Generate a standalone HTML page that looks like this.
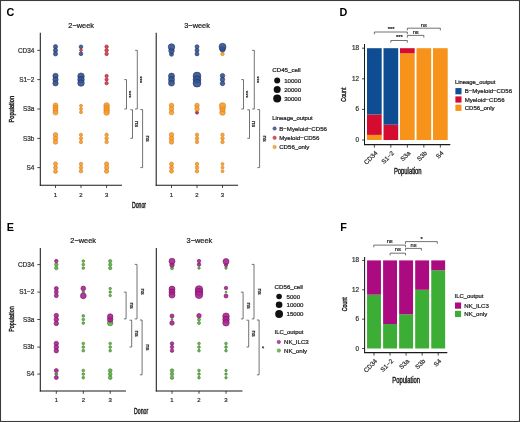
<!DOCTYPE html><html><head><meta charset="utf-8"><style>html,body{margin:0;padding:0;background:#fff;}svg{display:block;filter:blur(0.4px);}text{font-family:'Liberation Sans', sans-serif;}</style></head><body>
<svg width="520" height="422" viewBox="0 0 520 422">
<rect x="0" y="0" width="520" height="422" fill="#fff"/>
<text x="6.6" y="16.2" font-size="10.8" fill="#000" text-anchor="start" font-weight="bold">C</text>
<text x="339.6" y="16.0" font-size="10.8" fill="#000" text-anchor="start" font-weight="bold">D</text>
<text x="6.8" y="230.8" font-size="10.8" fill="#000" text-anchor="start" font-weight="bold">E</text>
<text x="340.2" y="230.6" font-size="10.8" fill="#000" text-anchor="start" font-weight="bold">F</text>
<line x1="40.3" y1="32.8" x2="40.3" y2="185.7" stroke="#1a1a1a" stroke-width="1.05"/>
<line x1="39.8" y1="185.2" x2="122.0" y2="185.2" stroke="#1a1a1a" stroke-width="1.05"/>
<line x1="37.3" y1="50.3" x2="40.3" y2="50.3" stroke="#1a1a1a" stroke-width="0.8"/>
<line x1="37.3" y1="79.6" x2="40.3" y2="79.6" stroke="#1a1a1a" stroke-width="0.8"/>
<line x1="37.3" y1="109.0" x2="40.3" y2="109.0" stroke="#1a1a1a" stroke-width="0.8"/>
<line x1="37.3" y1="138.4" x2="40.3" y2="138.4" stroke="#1a1a1a" stroke-width="0.8"/>
<line x1="37.3" y1="167.6" x2="40.3" y2="167.6" stroke="#1a1a1a" stroke-width="0.8"/>
<line x1="55.5" y1="185.2" x2="55.5" y2="188.0" stroke="#1a1a1a" stroke-width="0.8"/>
<text x="55.5" y="196.6" font-size="6" fill="#2e2e2e" text-anchor="middle" font-weight="normal" stroke="#2e2e2e" stroke-width="0.22">1</text>
<line x1="81.0" y1="185.2" x2="81.0" y2="188.0" stroke="#1a1a1a" stroke-width="0.8"/>
<text x="81.0" y="196.6" font-size="6" fill="#2e2e2e" text-anchor="middle" font-weight="normal" stroke="#2e2e2e" stroke-width="0.22">2</text>
<line x1="106.6" y1="185.2" x2="106.6" y2="188.0" stroke="#1a1a1a" stroke-width="0.8"/>
<text x="106.6" y="196.6" font-size="6" fill="#2e2e2e" text-anchor="middle" font-weight="normal" stroke="#2e2e2e" stroke-width="0.22">3</text>
<text x="81.15" y="28.2" font-size="7.4" fill="#1a1a1a" text-anchor="middle" font-weight="normal" stroke="#1a1a1a" stroke-width="0.22">2−week</text>
<circle cx="55.50" cy="46.70" r="2.10" fill="#33528f" fill-opacity="0.9" stroke="#1d3468" stroke-width="0.6"/>
<circle cx="55.50" cy="50.30" r="2.10" fill="#33528f" fill-opacity="0.9" stroke="#1d3468" stroke-width="0.6"/>
<circle cx="55.50" cy="53.90" r="2.10" fill="#33528f" fill-opacity="0.9" stroke="#1d3468" stroke-width="0.6"/>
<circle cx="81.00" cy="46.80" r="1.85" fill="#33528f" fill-opacity="0.9" stroke="#1d3468" stroke-width="0.6"/>
<circle cx="81.00" cy="53.80" r="1.85" fill="#33528f" fill-opacity="0.9" stroke="#1d3468" stroke-width="0.6"/>
<circle cx="81.00" cy="50.30" r="1.40" fill="#d0384a" fill-opacity="0.9" stroke="#a31c2c" stroke-width="0.6"/>
<circle cx="106.60" cy="46.70" r="1.75" fill="#d0384a" fill-opacity="0.9" stroke="#a31c2c" stroke-width="0.6"/>
<circle cx="106.60" cy="50.30" r="1.75" fill="#d0384a" fill-opacity="0.9" stroke="#a31c2c" stroke-width="0.6"/>
<circle cx="106.60" cy="53.90" r="1.75" fill="#d0384a" fill-opacity="0.9" stroke="#a31c2c" stroke-width="0.6"/>
<circle cx="55.50" cy="75.90" r="2.65" fill="#33528f" fill-opacity="0.9" stroke="#1d3468" stroke-width="0.6"/>
<circle cx="55.50" cy="79.60" r="2.65" fill="#33528f" fill-opacity="0.9" stroke="#1d3468" stroke-width="0.6"/>
<circle cx="55.50" cy="83.30" r="2.65" fill="#33528f" fill-opacity="0.9" stroke="#1d3468" stroke-width="0.6"/>
<circle cx="81.00" cy="76.20" r="3.25" fill="#33528f" fill-opacity="0.9" stroke="#1d3468" stroke-width="0.6"/>
<circle cx="81.00" cy="79.60" r="3.25" fill="#33528f" fill-opacity="0.9" stroke="#1d3468" stroke-width="0.6"/>
<circle cx="81.00" cy="83.00" r="3.25" fill="#33528f" fill-opacity="0.9" stroke="#1d3468" stroke-width="0.6"/>
<circle cx="106.60" cy="76.00" r="1.65" fill="#d0384a" fill-opacity="0.9" stroke="#a31c2c" stroke-width="0.6"/>
<circle cx="106.60" cy="79.60" r="1.65" fill="#d0384a" fill-opacity="0.9" stroke="#a31c2c" stroke-width="0.6"/>
<circle cx="106.60" cy="83.20" r="1.65" fill="#d0384a" fill-opacity="0.9" stroke="#a31c2c" stroke-width="0.6"/>
<circle cx="55.50" cy="105.40" r="2.45" fill="#f59c30" fill-opacity="0.9" stroke="#d97c12" stroke-width="0.6"/>
<circle cx="55.50" cy="107.80" r="2.45" fill="#f59c30" fill-opacity="0.9" stroke="#d97c12" stroke-width="0.6"/>
<circle cx="55.50" cy="110.20" r="2.45" fill="#f59c30" fill-opacity="0.9" stroke="#d97c12" stroke-width="0.6"/>
<circle cx="55.50" cy="112.60" r="2.45" fill="#f59c30" fill-opacity="0.9" stroke="#d97c12" stroke-width="0.6"/>
<circle cx="81.00" cy="105.80" r="1.50" fill="#f59c30" fill-opacity="0.9" stroke="#d97c12" stroke-width="0.6"/>
<circle cx="81.00" cy="109.00" r="1.50" fill="#f59c30" fill-opacity="0.9" stroke="#d97c12" stroke-width="0.6"/>
<circle cx="81.00" cy="112.20" r="1.50" fill="#f59c30" fill-opacity="0.9" stroke="#d97c12" stroke-width="0.6"/>
<circle cx="106.60" cy="105.40" r="2.75" fill="#f59c30" fill-opacity="0.9" stroke="#d97c12" stroke-width="0.6"/>
<circle cx="106.60" cy="107.80" r="2.75" fill="#f59c30" fill-opacity="0.9" stroke="#d97c12" stroke-width="0.6"/>
<circle cx="106.60" cy="110.20" r="2.75" fill="#f59c30" fill-opacity="0.9" stroke="#d97c12" stroke-width="0.6"/>
<circle cx="106.60" cy="112.60" r="2.75" fill="#f59c30" fill-opacity="0.9" stroke="#d97c12" stroke-width="0.6"/>
<circle cx="55.50" cy="134.80" r="2.25" fill="#f59c30" fill-opacity="0.9" stroke="#d97c12" stroke-width="0.6"/>
<circle cx="55.50" cy="138.40" r="2.25" fill="#f59c30" fill-opacity="0.9" stroke="#d97c12" stroke-width="0.6"/>
<circle cx="55.50" cy="142.00" r="2.25" fill="#f59c30" fill-opacity="0.9" stroke="#d97c12" stroke-width="0.6"/>
<circle cx="81.00" cy="134.80" r="1.65" fill="#f59c30" fill-opacity="0.9" stroke="#d97c12" stroke-width="0.6"/>
<circle cx="81.00" cy="138.40" r="1.65" fill="#f59c30" fill-opacity="0.9" stroke="#d97c12" stroke-width="0.6"/>
<circle cx="81.00" cy="142.00" r="1.65" fill="#f59c30" fill-opacity="0.9" stroke="#d97c12" stroke-width="0.6"/>
<circle cx="106.60" cy="134.80" r="1.75" fill="#f59c30" fill-opacity="0.9" stroke="#d97c12" stroke-width="0.6"/>
<circle cx="106.60" cy="138.40" r="1.75" fill="#f59c30" fill-opacity="0.9" stroke="#d97c12" stroke-width="0.6"/>
<circle cx="106.60" cy="142.00" r="1.75" fill="#f59c30" fill-opacity="0.9" stroke="#d97c12" stroke-width="0.6"/>
<circle cx="55.50" cy="163.80" r="2.00" fill="#f59c30" fill-opacity="0.9" stroke="#d97c12" stroke-width="0.6"/>
<circle cx="55.50" cy="167.60" r="2.00" fill="#f59c30" fill-opacity="0.9" stroke="#d97c12" stroke-width="0.6"/>
<circle cx="55.50" cy="171.40" r="2.00" fill="#f59c30" fill-opacity="0.9" stroke="#d97c12" stroke-width="0.6"/>
<circle cx="81.00" cy="164.00" r="1.75" fill="#f59c30" fill-opacity="0.9" stroke="#d97c12" stroke-width="0.6"/>
<circle cx="81.00" cy="167.60" r="1.75" fill="#f59c30" fill-opacity="0.9" stroke="#d97c12" stroke-width="0.6"/>
<circle cx="81.00" cy="171.20" r="1.75" fill="#f59c30" fill-opacity="0.9" stroke="#d97c12" stroke-width="0.6"/>
<circle cx="106.60" cy="164.00" r="2.15" fill="#f59c30" fill-opacity="0.9" stroke="#d97c12" stroke-width="0.6"/>
<circle cx="106.60" cy="167.60" r="2.15" fill="#f59c30" fill-opacity="0.9" stroke="#d97c12" stroke-width="0.6"/>
<circle cx="106.60" cy="171.20" r="2.15" fill="#f59c30" fill-opacity="0.9" stroke="#d97c12" stroke-width="0.6"/>
<text x="34.3" y="52.599999999999994" font-size="6.4" fill="#2e2e2e" text-anchor="end" font-weight="normal" stroke="#2e2e2e" stroke-width="0.22">CD34</text>
<text x="34.3" y="81.89999999999999" font-size="6.4" fill="#2e2e2e" text-anchor="end" font-weight="normal" stroke="#2e2e2e" stroke-width="0.22">S1−2</text>
<text x="34.3" y="111.3" font-size="6.4" fill="#2e2e2e" text-anchor="end" font-weight="normal" stroke="#2e2e2e" stroke-width="0.22">S3a</text>
<text x="34.3" y="140.70000000000002" font-size="6.4" fill="#2e2e2e" text-anchor="end" font-weight="normal" stroke="#2e2e2e" stroke-width="0.22">S3b</text>
<text x="34.3" y="169.9" font-size="6.4" fill="#2e2e2e" text-anchor="end" font-weight="normal" stroke="#2e2e2e" stroke-width="0.22">S4</text>
<line x1="156.2" y1="32.8" x2="156.2" y2="185.7" stroke="#1a1a1a" stroke-width="1.05"/>
<line x1="155.7" y1="185.2" x2="238.0" y2="185.2" stroke="#1a1a1a" stroke-width="1.05"/>
<line x1="171.5" y1="185.2" x2="171.5" y2="188.0" stroke="#1a1a1a" stroke-width="0.8"/>
<text x="171.5" y="196.6" font-size="6" fill="#2e2e2e" text-anchor="middle" font-weight="normal" stroke="#2e2e2e" stroke-width="0.22">1</text>
<line x1="197.0" y1="185.2" x2="197.0" y2="188.0" stroke="#1a1a1a" stroke-width="0.8"/>
<text x="197.0" y="196.6" font-size="6" fill="#2e2e2e" text-anchor="middle" font-weight="normal" stroke="#2e2e2e" stroke-width="0.22">2</text>
<line x1="222.5" y1="185.2" x2="222.5" y2="188.0" stroke="#1a1a1a" stroke-width="0.8"/>
<text x="222.5" y="196.6" font-size="6" fill="#2e2e2e" text-anchor="middle" font-weight="normal" stroke="#2e2e2e" stroke-width="0.22">3</text>
<text x="197.1" y="28.2" font-size="7.4" fill="#1a1a1a" text-anchor="middle" font-weight="normal" stroke="#1a1a1a" stroke-width="0.22">3−week</text>
<circle cx="171.50" cy="54.30" r="2.00" fill="#33528f" fill-opacity="0.9" stroke="#1d3468" stroke-width="0.6"/>
<circle cx="171.50" cy="50.80" r="2.75" fill="#33528f" fill-opacity="0.9" stroke="#1d3468" stroke-width="0.6"/>
<circle cx="171.50" cy="47.00" r="3.25" fill="#33528f" fill-opacity="0.9" stroke="#1d3468" stroke-width="0.6"/>
<circle cx="197.00" cy="46.70" r="2.00" fill="#33528f" fill-opacity="0.9" stroke="#1d3468" stroke-width="0.6"/>
<circle cx="197.00" cy="50.30" r="2.00" fill="#33528f" fill-opacity="0.9" stroke="#1d3468" stroke-width="0.6"/>
<circle cx="197.00" cy="53.90" r="2.00" fill="#33528f" fill-opacity="0.9" stroke="#1d3468" stroke-width="0.6"/>
<circle cx="222.50" cy="53.90" r="1.75" fill="#f59c30" fill-opacity="0.9" stroke="#d97c12" stroke-width="0.6"/>
<circle cx="222.50" cy="49.30" r="2.75" fill="#33528f" fill-opacity="0.9" stroke="#1d3468" stroke-width="0.6"/>
<circle cx="222.50" cy="46.80" r="3.50" fill="#33528f" fill-opacity="0.9" stroke="#1d3468" stroke-width="0.6"/>
<circle cx="171.50" cy="76.10" r="3.00" fill="#33528f" fill-opacity="0.9" stroke="#1d3468" stroke-width="0.6"/>
<circle cx="171.50" cy="79.60" r="3.00" fill="#33528f" fill-opacity="0.9" stroke="#1d3468" stroke-width="0.6"/>
<circle cx="171.50" cy="83.10" r="3.00" fill="#33528f" fill-opacity="0.9" stroke="#1d3468" stroke-width="0.6"/>
<circle cx="197.00" cy="76.00" r="3.90" fill="#33528f" fill-opacity="0.9" stroke="#1d3468" stroke-width="0.6"/>
<circle cx="197.00" cy="79.60" r="3.90" fill="#33528f" fill-opacity="0.9" stroke="#1d3468" stroke-width="0.6"/>
<circle cx="197.00" cy="83.20" r="3.90" fill="#33528f" fill-opacity="0.9" stroke="#1d3468" stroke-width="0.6"/>
<circle cx="222.50" cy="75.70" r="2.25" fill="#33528f" fill-opacity="0.9" stroke="#1d3468" stroke-width="0.6"/>
<circle cx="222.50" cy="79.60" r="2.25" fill="#33528f" fill-opacity="0.9" stroke="#1d3468" stroke-width="0.6"/>
<circle cx="222.50" cy="83.50" r="2.25" fill="#33528f" fill-opacity="0.9" stroke="#1d3468" stroke-width="0.6"/>
<circle cx="171.50" cy="105.40" r="2.25" fill="#f59c30" fill-opacity="0.9" stroke="#d97c12" stroke-width="0.6"/>
<circle cx="171.50" cy="109.00" r="2.25" fill="#f59c30" fill-opacity="0.9" stroke="#d97c12" stroke-width="0.6"/>
<circle cx="171.50" cy="112.60" r="2.25" fill="#f59c30" fill-opacity="0.9" stroke="#d97c12" stroke-width="0.6"/>
<circle cx="197.00" cy="112.60" r="1.55" fill="#a8303e" fill-opacity="0.9" stroke="#7a1a28" stroke-width="0.6"/>
<circle cx="197.00" cy="105.40" r="2.25" fill="#f59c30" fill-opacity="0.9" stroke="#d97c12" stroke-width="0.6"/>
<circle cx="197.00" cy="109.00" r="2.25" fill="#f59c30" fill-opacity="0.9" stroke="#d97c12" stroke-width="0.6"/>
<circle cx="222.50" cy="112.60" r="2.75" fill="#f59c30" fill-opacity="0.9" stroke="#d97c12" stroke-width="0.6"/>
<circle cx="222.50" cy="109.00" r="2.75" fill="#f59c30" fill-opacity="0.9" stroke="#d97c12" stroke-width="0.6"/>
<circle cx="222.50" cy="105.80" r="3.15" fill="#f59c30" fill-opacity="0.9" stroke="#d97c12" stroke-width="0.6"/>
<circle cx="171.50" cy="134.80" r="2.25" fill="#f59c30" fill-opacity="0.9" stroke="#d97c12" stroke-width="0.6"/>
<circle cx="171.50" cy="138.40" r="2.25" fill="#f59c30" fill-opacity="0.9" stroke="#d97c12" stroke-width="0.6"/>
<circle cx="171.50" cy="142.00" r="2.25" fill="#f59c30" fill-opacity="0.9" stroke="#d97c12" stroke-width="0.6"/>
<circle cx="197.00" cy="134.80" r="1.75" fill="#f59c30" fill-opacity="0.9" stroke="#d97c12" stroke-width="0.6"/>
<circle cx="197.00" cy="138.40" r="1.75" fill="#f59c30" fill-opacity="0.9" stroke="#d97c12" stroke-width="0.6"/>
<circle cx="197.00" cy="142.00" r="1.75" fill="#f59c30" fill-opacity="0.9" stroke="#d97c12" stroke-width="0.6"/>
<circle cx="222.50" cy="134.80" r="1.75" fill="#f59c30" fill-opacity="0.9" stroke="#d97c12" stroke-width="0.6"/>
<circle cx="222.50" cy="138.40" r="1.75" fill="#f59c30" fill-opacity="0.9" stroke="#d97c12" stroke-width="0.6"/>
<circle cx="222.50" cy="142.00" r="1.75" fill="#f59c30" fill-opacity="0.9" stroke="#d97c12" stroke-width="0.6"/>
<circle cx="171.50" cy="164.00" r="2.00" fill="#f59c30" fill-opacity="0.9" stroke="#d97c12" stroke-width="0.6"/>
<circle cx="171.50" cy="167.60" r="2.00" fill="#f59c30" fill-opacity="0.9" stroke="#d97c12" stroke-width="0.6"/>
<circle cx="171.50" cy="171.20" r="2.00" fill="#f59c30" fill-opacity="0.9" stroke="#d97c12" stroke-width="0.6"/>
<circle cx="197.00" cy="164.00" r="1.75" fill="#f59c30" fill-opacity="0.9" stroke="#d97c12" stroke-width="0.6"/>
<circle cx="197.00" cy="167.60" r="1.75" fill="#f59c30" fill-opacity="0.9" stroke="#d97c12" stroke-width="0.6"/>
<circle cx="197.00" cy="171.20" r="1.75" fill="#f59c30" fill-opacity="0.9" stroke="#d97c12" stroke-width="0.6"/>
<circle cx="222.50" cy="164.00" r="1.50" fill="#f59c30" fill-opacity="0.9" stroke="#d97c12" stroke-width="0.6"/>
<circle cx="222.50" cy="167.60" r="1.50" fill="#f59c30" fill-opacity="0.9" stroke="#d97c12" stroke-width="0.6"/>
<circle cx="222.50" cy="171.20" r="1.50" fill="#f59c30" fill-opacity="0.9" stroke="#d97c12" stroke-width="0.6"/>
<path d="M124.3,79.6 H126.5 V109.0 H124.3" fill="none" stroke="#444" stroke-width="0.75"/>
<text x="0" y="0" font-size="5.9" fill="#222" text-anchor="middle" font-weight="normal" transform="translate(129.1,94.3) rotate(90)" dominant-baseline="central" stroke="#222" stroke-width="0.22">***</text>
<path d="M135.10000000000002,50.3 H137.3 V109.0 H135.10000000000002" fill="none" stroke="#444" stroke-width="0.75"/>
<text x="0" y="0" font-size="5.9" fill="#222" text-anchor="middle" font-weight="normal" transform="translate(140.1,79.65) rotate(90)" dominant-baseline="central" stroke="#222" stroke-width="0.22">***</text>
<path d="M130.3,109.8 H132.5 V138.3 H130.3" fill="none" stroke="#444" stroke-width="0.75"/>
<text x="0" y="0" font-size="5.9" fill="#222" text-anchor="middle" font-weight="normal" transform="translate(137.4,124.05000000000001) rotate(90)" dominant-baseline="central" stroke="#222" stroke-width="0.22">ns</text>
<path d="M140.4,109.6 H142.6 V167.6 H140.4" fill="none" stroke="#444" stroke-width="0.75"/>
<text x="0" y="0" font-size="5.9" fill="#222" text-anchor="middle" font-weight="normal" transform="translate(147.9,138.6) rotate(90)" dominant-baseline="central" stroke="#222" stroke-width="0.22">ns</text>
<path d="M241.3,79.6 H243.5 V109.0 H241.3" fill="none" stroke="#444" stroke-width="0.75"/>
<text x="0" y="0" font-size="5.9" fill="#222" text-anchor="middle" font-weight="normal" transform="translate(246.1,94.3) rotate(90)" dominant-baseline="central" stroke="#222" stroke-width="0.22">***</text>
<path d="M252.10000000000002,50.3 H254.3 V109.0 H252.10000000000002" fill="none" stroke="#444" stroke-width="0.75"/>
<text x="0" y="0" font-size="5.9" fill="#222" text-anchor="middle" font-weight="normal" transform="translate(257.1,79.65) rotate(90)" dominant-baseline="central" stroke="#222" stroke-width="0.22">***</text>
<path d="M247.3,109.8 H249.5 V138.3 H247.3" fill="none" stroke="#444" stroke-width="0.75"/>
<text x="0" y="0" font-size="5.9" fill="#222" text-anchor="middle" font-weight="normal" transform="translate(254.4,124.05000000000001) rotate(90)" dominant-baseline="central" stroke="#222" stroke-width="0.22">ns</text>
<path d="M257.40000000000003,109.6 H259.6 V167.6 H257.40000000000003" fill="none" stroke="#444" stroke-width="0.75"/>
<text x="0" y="0" font-size="5.9" fill="#222" text-anchor="middle" font-weight="normal" transform="translate(264.90000000000003,138.6) rotate(90)" dominant-baseline="central" stroke="#222" stroke-width="0.22">ns</text>
<text x="0" y="0" font-size="8.0" fill="#1a1a1a" text-anchor="middle" font-weight="normal" transform="translate(13.8,109.2) rotate(-90)" stroke="#1a1a1a" stroke-width="0.42" textLength="26.5" lengthAdjust="spacingAndGlyphs">Population</text>
<text x="139.0" y="207.9" font-size="8.2" fill="#1a1a1a" text-anchor="middle" font-weight="normal" stroke="#1a1a1a" stroke-width="0.42" textLength="14.1" lengthAdjust="spacingAndGlyphs">Donor</text>
<text x="272.3" y="72.3" font-size="6.15" fill="#1a1a1a" text-anchor="start" font-weight="normal" textLength="28.4" lengthAdjust="spacingAndGlyphs" stroke="#1a1a1a" stroke-width="0.22">CD45_cell</text>
<circle cx="277.2" cy="80.5" r="3.0" fill="#111"/>
<text x="284.2" y="82.7" font-size="6.1" fill="#1a1a1a" text-anchor="start" font-weight="normal" stroke="#1a1a1a" stroke-width="0.22">10000</text>
<circle cx="277.2" cy="89.5" r="3.5" fill="#111"/>
<text x="284.2" y="91.7" font-size="6.1" fill="#1a1a1a" text-anchor="start" font-weight="normal" stroke="#1a1a1a" stroke-width="0.22">20000</text>
<circle cx="277.2" cy="98.6" r="4.0" fill="#111"/>
<text x="284.2" y="100.8" font-size="6.1" fill="#1a1a1a" text-anchor="start" font-weight="normal" stroke="#1a1a1a" stroke-width="0.22">30000</text>
<text x="272.3" y="120.3" font-size="5.85" fill="#1a1a1a" text-anchor="start" font-weight="normal" textLength="40.4" lengthAdjust="spacingAndGlyphs" stroke="#1a1a1a" stroke-width="0.22">Lineage_output</text>
<circle cx="274.6" cy="128.5" r="1.75" fill="#33528f" fill-opacity="0.85" stroke="#1d3468" stroke-width="0.4"/>
<text x="279.2" y="130.7" font-size="6.1" fill="#1a1a1a" text-anchor="start" font-weight="normal" stroke="#1a1a1a" stroke-width="0.22">B−Myeloid−CD56</text>
<circle cx="274.6" cy="137.8" r="1.75" fill="#d0384a" fill-opacity="0.85" stroke="#a31c2c" stroke-width="0.4"/>
<text x="279.2" y="140.0" font-size="6.1" fill="#1a1a1a" text-anchor="start" font-weight="normal" stroke="#1a1a1a" stroke-width="0.22">Myeloid−CD56</text>
<circle cx="274.6" cy="147.0" r="1.75" fill="#f59c30" fill-opacity="0.85" stroke="#d97c12" stroke-width="0.4"/>
<text x="279.2" y="149.2" font-size="6.1" fill="#1a1a1a" text-anchor="start" font-weight="normal" stroke="#1a1a1a" stroke-width="0.22">CD56_only</text>
<line x1="40.3" y1="248.0" x2="40.3" y2="391.5" stroke="#1a1a1a" stroke-width="1.05"/>
<line x1="39.8" y1="391.0" x2="126.0" y2="391.0" stroke="#1a1a1a" stroke-width="1.05"/>
<line x1="37.3" y1="264.6" x2="40.3" y2="264.6" stroke="#1a1a1a" stroke-width="0.8"/>
<line x1="37.3" y1="292.1" x2="40.3" y2="292.1" stroke="#1a1a1a" stroke-width="0.8"/>
<line x1="37.3" y1="319.5" x2="40.3" y2="319.5" stroke="#1a1a1a" stroke-width="0.8"/>
<line x1="37.3" y1="347.1" x2="40.3" y2="347.1" stroke="#1a1a1a" stroke-width="0.8"/>
<line x1="37.3" y1="374.1" x2="40.3" y2="374.1" stroke="#1a1a1a" stroke-width="0.8"/>
<line x1="56.3" y1="391.0" x2="56.3" y2="393.8" stroke="#1a1a1a" stroke-width="0.8"/>
<text x="56.3" y="402.2" font-size="6" fill="#2e2e2e" text-anchor="middle" font-weight="normal" stroke="#2e2e2e" stroke-width="0.22">1</text>
<line x1="83.3" y1="391.0" x2="83.3" y2="393.8" stroke="#1a1a1a" stroke-width="0.8"/>
<text x="83.3" y="402.2" font-size="6" fill="#2e2e2e" text-anchor="middle" font-weight="normal" stroke="#2e2e2e" stroke-width="0.22">2</text>
<line x1="110.2" y1="391.0" x2="110.2" y2="393.8" stroke="#1a1a1a" stroke-width="0.8"/>
<text x="110.2" y="402.2" font-size="6" fill="#2e2e2e" text-anchor="middle" font-weight="normal" stroke="#2e2e2e" stroke-width="0.22">3</text>
<text x="83.15" y="243.0" font-size="7.4" fill="#1a1a1a" text-anchor="middle" font-weight="normal" stroke="#1a1a1a" stroke-width="0.22">2−week</text>
<circle cx="56.30" cy="268.10" r="1.75" fill="#5fae48" fill-opacity="0.9" stroke="#3b8028" stroke-width="0.6"/>
<circle cx="56.30" cy="264.60" r="1.75" fill="#5fae48" fill-opacity="0.9" stroke="#3b8028" stroke-width="0.6"/>
<circle cx="56.30" cy="261.10" r="1.75" fill="#aa2490" fill-opacity="0.9" stroke="#72105e" stroke-width="0.6"/>
<circle cx="83.30" cy="261.10" r="1.35" fill="#5fae48" fill-opacity="0.9" stroke="#3b8028" stroke-width="0.6"/>
<circle cx="83.30" cy="264.60" r="1.35" fill="#5fae48" fill-opacity="0.9" stroke="#3b8028" stroke-width="0.6"/>
<circle cx="83.30" cy="268.10" r="1.35" fill="#5fae48" fill-opacity="0.9" stroke="#3b8028" stroke-width="0.6"/>
<circle cx="110.20" cy="261.10" r="1.65" fill="#5fae48" fill-opacity="0.9" stroke="#3b8028" stroke-width="0.6"/>
<circle cx="110.20" cy="264.60" r="1.65" fill="#5fae48" fill-opacity="0.9" stroke="#3b8028" stroke-width="0.6"/>
<circle cx="110.20" cy="268.10" r="1.65" fill="#5fae48" fill-opacity="0.9" stroke="#3b8028" stroke-width="0.6"/>
<circle cx="56.30" cy="288.50" r="2.00" fill="#aa2490" fill-opacity="0.9" stroke="#72105e" stroke-width="0.6"/>
<circle cx="56.30" cy="292.10" r="2.00" fill="#aa2490" fill-opacity="0.9" stroke="#72105e" stroke-width="0.6"/>
<circle cx="56.30" cy="295.70" r="2.00" fill="#aa2490" fill-opacity="0.9" stroke="#72105e" stroke-width="0.6"/>
<circle cx="83.30" cy="288.40" r="2.35" fill="#aa2490" fill-opacity="0.9" stroke="#72105e" stroke-width="0.6"/>
<circle cx="83.30" cy="295.80" r="2.90" fill="#aa2490" fill-opacity="0.9" stroke="#72105e" stroke-width="0.6"/>
<circle cx="83.30" cy="292.10" r="1.25" fill="#6f7a62" fill-opacity="0.9" stroke="#4f5a42" stroke-width="0.6"/>
<circle cx="110.20" cy="288.60" r="1.25" fill="#5fae48" fill-opacity="0.9" stroke="#3b8028" stroke-width="0.6"/>
<circle cx="110.20" cy="292.10" r="1.25" fill="#5fae48" fill-opacity="0.9" stroke="#3b8028" stroke-width="0.6"/>
<circle cx="110.20" cy="295.60" r="1.25" fill="#5fae48" fill-opacity="0.9" stroke="#3b8028" stroke-width="0.6"/>
<circle cx="56.30" cy="315.60" r="2.25" fill="#aa2490" fill-opacity="0.9" stroke="#72105e" stroke-width="0.6"/>
<circle cx="56.30" cy="319.50" r="2.25" fill="#aa2490" fill-opacity="0.9" stroke="#72105e" stroke-width="0.6"/>
<circle cx="56.30" cy="323.40" r="2.25" fill="#aa2490" fill-opacity="0.9" stroke="#72105e" stroke-width="0.6"/>
<circle cx="83.30" cy="315.90" r="1.35" fill="#5fae48" fill-opacity="0.9" stroke="#3b8028" stroke-width="0.6"/>
<circle cx="83.30" cy="319.50" r="1.35" fill="#5fae48" fill-opacity="0.9" stroke="#3b8028" stroke-width="0.6"/>
<circle cx="83.30" cy="323.10" r="1.35" fill="#5fae48" fill-opacity="0.9" stroke="#3b8028" stroke-width="0.6"/>
<circle cx="110.20" cy="323.00" r="2.75" fill="#5fae48" fill-opacity="0.9" stroke="#3b8028" stroke-width="0.6"/>
<circle cx="110.20" cy="319.50" r="2.75" fill="#aa2490" fill-opacity="0.9" stroke="#72105e" stroke-width="0.6"/>
<circle cx="110.20" cy="316.50" r="2.75" fill="#aa2490" fill-opacity="0.9" stroke="#72105e" stroke-width="0.6"/>
<circle cx="56.30" cy="343.50" r="2.25" fill="#aa2490" fill-opacity="0.9" stroke="#72105e" stroke-width="0.6"/>
<circle cx="56.30" cy="347.10" r="2.25" fill="#aa2490" fill-opacity="0.9" stroke="#72105e" stroke-width="0.6"/>
<circle cx="56.30" cy="350.70" r="2.25" fill="#aa2490" fill-opacity="0.9" stroke="#72105e" stroke-width="0.6"/>
<circle cx="83.30" cy="343.50" r="1.35" fill="#5fae48" fill-opacity="0.9" stroke="#3b8028" stroke-width="0.6"/>
<circle cx="83.30" cy="347.10" r="1.35" fill="#5fae48" fill-opacity="0.9" stroke="#3b8028" stroke-width="0.6"/>
<circle cx="83.30" cy="350.70" r="1.35" fill="#5fae48" fill-opacity="0.9" stroke="#3b8028" stroke-width="0.6"/>
<circle cx="110.20" cy="343.50" r="1.35" fill="#5fae48" fill-opacity="0.9" stroke="#3b8028" stroke-width="0.6"/>
<circle cx="110.20" cy="347.10" r="1.35" fill="#5fae48" fill-opacity="0.9" stroke="#3b8028" stroke-width="0.6"/>
<circle cx="110.20" cy="350.70" r="1.35" fill="#5fae48" fill-opacity="0.9" stroke="#3b8028" stroke-width="0.6"/>
<circle cx="56.30" cy="370.60" r="2.00" fill="#aa2490" fill-opacity="0.9" stroke="#72105e" stroke-width="0.6"/>
<circle cx="56.30" cy="377.60" r="2.00" fill="#aa2490" fill-opacity="0.9" stroke="#72105e" stroke-width="0.6"/>
<circle cx="56.30" cy="374.10" r="1.50" fill="#6f7a62" fill-opacity="0.9" stroke="#4f5a42" stroke-width="0.6"/>
<circle cx="83.30" cy="370.50" r="1.35" fill="#5fae48" fill-opacity="0.9" stroke="#3b8028" stroke-width="0.6"/>
<circle cx="83.30" cy="374.10" r="1.35" fill="#5fae48" fill-opacity="0.9" stroke="#3b8028" stroke-width="0.6"/>
<circle cx="83.30" cy="377.70" r="1.35" fill="#5fae48" fill-opacity="0.9" stroke="#3b8028" stroke-width="0.6"/>
<circle cx="110.20" cy="370.50" r="1.85" fill="#5fae48" fill-opacity="0.9" stroke="#3b8028" stroke-width="0.6"/>
<circle cx="110.20" cy="374.10" r="1.85" fill="#5fae48" fill-opacity="0.9" stroke="#3b8028" stroke-width="0.6"/>
<circle cx="110.20" cy="377.70" r="1.85" fill="#5fae48" fill-opacity="0.9" stroke="#3b8028" stroke-width="0.6"/>
<text x="34.3" y="266.90000000000003" font-size="6.4" fill="#2e2e2e" text-anchor="end" font-weight="normal" stroke="#2e2e2e" stroke-width="0.22">CD34</text>
<text x="34.3" y="294.40000000000003" font-size="6.4" fill="#2e2e2e" text-anchor="end" font-weight="normal" stroke="#2e2e2e" stroke-width="0.22">S1−2</text>
<text x="34.3" y="321.8" font-size="6.4" fill="#2e2e2e" text-anchor="end" font-weight="normal" stroke="#2e2e2e" stroke-width="0.22">S3a</text>
<text x="34.3" y="349.40000000000003" font-size="6.4" fill="#2e2e2e" text-anchor="end" font-weight="normal" stroke="#2e2e2e" stroke-width="0.22">S3b</text>
<text x="34.3" y="376.40000000000003" font-size="6.4" fill="#2e2e2e" text-anchor="end" font-weight="normal" stroke="#2e2e2e" stroke-width="0.22">S4</text>
<line x1="156.3" y1="248.0" x2="156.3" y2="391.5" stroke="#1a1a1a" stroke-width="1.05"/>
<line x1="155.8" y1="391.0" x2="242.5" y2="391.0" stroke="#1a1a1a" stroke-width="1.05"/>
<line x1="172.0" y1="391.0" x2="172.0" y2="393.8" stroke="#1a1a1a" stroke-width="0.8"/>
<text x="172.0" y="402.2" font-size="6" fill="#2e2e2e" text-anchor="middle" font-weight="normal" stroke="#2e2e2e" stroke-width="0.22">1</text>
<line x1="199.0" y1="391.0" x2="199.0" y2="393.8" stroke="#1a1a1a" stroke-width="0.8"/>
<text x="199.0" y="402.2" font-size="6" fill="#2e2e2e" text-anchor="middle" font-weight="normal" stroke="#2e2e2e" stroke-width="0.22">2</text>
<line x1="226.0" y1="391.0" x2="226.0" y2="393.8" stroke="#1a1a1a" stroke-width="0.8"/>
<text x="226.0" y="402.2" font-size="6" fill="#2e2e2e" text-anchor="middle" font-weight="normal" stroke="#2e2e2e" stroke-width="0.22">3</text>
<text x="199.4" y="243.0" font-size="7.4" fill="#1a1a1a" text-anchor="middle" font-weight="normal" stroke="#1a1a1a" stroke-width="0.22">3−week</text>
<circle cx="172.00" cy="268.30" r="1.50" fill="#5fae48" fill-opacity="0.9" stroke="#3b8028" stroke-width="0.6"/>
<circle cx="172.00" cy="265.00" r="2.25" fill="#aa2490" fill-opacity="0.9" stroke="#72105e" stroke-width="0.6"/>
<circle cx="172.00" cy="261.20" r="3.00" fill="#aa2490" fill-opacity="0.9" stroke="#72105e" stroke-width="0.6"/>
<circle cx="199.00" cy="268.10" r="1.25" fill="#5fae48" fill-opacity="0.9" stroke="#3b8028" stroke-width="0.6"/>
<circle cx="199.00" cy="264.60" r="1.75" fill="#aa2490" fill-opacity="0.9" stroke="#72105e" stroke-width="0.6"/>
<circle cx="199.00" cy="261.10" r="1.75" fill="#aa2490" fill-opacity="0.9" stroke="#72105e" stroke-width="0.6"/>
<circle cx="226.00" cy="268.10" r="1.25" fill="#5fae48" fill-opacity="0.9" stroke="#3b8028" stroke-width="0.6"/>
<circle cx="226.00" cy="265.00" r="1.75" fill="#aa2490" fill-opacity="0.9" stroke="#72105e" stroke-width="0.6"/>
<circle cx="226.00" cy="261.50" r="3.00" fill="#aa2490" fill-opacity="0.9" stroke="#72105e" stroke-width="0.6"/>
<circle cx="172.00" cy="289.10" r="3.00" fill="#aa2490" fill-opacity="0.9" stroke="#72105e" stroke-width="0.6"/>
<circle cx="172.00" cy="292.10" r="3.00" fill="#aa2490" fill-opacity="0.9" stroke="#72105e" stroke-width="0.6"/>
<circle cx="172.00" cy="295.10" r="3.00" fill="#aa2490" fill-opacity="0.9" stroke="#72105e" stroke-width="0.6"/>
<circle cx="199.00" cy="289.40" r="3.75" fill="#aa2490" fill-opacity="0.9" stroke="#72105e" stroke-width="0.6"/>
<circle cx="199.00" cy="292.10" r="3.75" fill="#aa2490" fill-opacity="0.9" stroke="#72105e" stroke-width="0.6"/>
<circle cx="199.00" cy="294.80" r="3.75" fill="#aa2490" fill-opacity="0.9" stroke="#72105e" stroke-width="0.6"/>
<circle cx="226.00" cy="292.10" r="1.00" fill="#5fae48" fill-opacity="0.9" stroke="#3b8028" stroke-width="0.6"/>
<circle cx="226.00" cy="288.00" r="1.75" fill="#aa2490" fill-opacity="0.9" stroke="#72105e" stroke-width="0.6"/>
<circle cx="226.00" cy="296.00" r="2.00" fill="#aa2490" fill-opacity="0.9" stroke="#72105e" stroke-width="0.6"/>
<circle cx="172.00" cy="319.50" r="1.00" fill="#5fae48" fill-opacity="0.9" stroke="#3b8028" stroke-width="0.6"/>
<circle cx="172.00" cy="316.00" r="2.00" fill="#aa2490" fill-opacity="0.9" stroke="#72105e" stroke-width="0.6"/>
<circle cx="172.00" cy="323.00" r="2.25" fill="#aa2490" fill-opacity="0.9" stroke="#72105e" stroke-width="0.6"/>
<circle cx="199.00" cy="323.00" r="1.50" fill="#5fae48" fill-opacity="0.9" stroke="#3b8028" stroke-width="0.6"/>
<circle cx="199.00" cy="319.50" r="1.50" fill="#5fae48" fill-opacity="0.9" stroke="#3b8028" stroke-width="0.6"/>
<circle cx="199.00" cy="315.70" r="2.25" fill="#aa2490" fill-opacity="0.9" stroke="#72105e" stroke-width="0.6"/>
<circle cx="226.00" cy="316.20" r="3.25" fill="#aa2490" fill-opacity="0.9" stroke="#72105e" stroke-width="0.6"/>
<circle cx="226.00" cy="319.50" r="3.25" fill="#aa2490" fill-opacity="0.9" stroke="#72105e" stroke-width="0.6"/>
<circle cx="226.00" cy="322.80" r="3.25" fill="#aa2490" fill-opacity="0.9" stroke="#72105e" stroke-width="0.6"/>
<circle cx="172.00" cy="343.50" r="1.75" fill="#aa2490" fill-opacity="0.9" stroke="#72105e" stroke-width="0.6"/>
<circle cx="172.00" cy="347.10" r="1.75" fill="#aa2490" fill-opacity="0.9" stroke="#72105e" stroke-width="0.6"/>
<circle cx="172.00" cy="350.70" r="1.75" fill="#aa2490" fill-opacity="0.9" stroke="#72105e" stroke-width="0.6"/>
<circle cx="199.00" cy="343.50" r="1.35" fill="#5fae48" fill-opacity="0.9" stroke="#3b8028" stroke-width="0.6"/>
<circle cx="199.00" cy="347.10" r="1.35" fill="#5fae48" fill-opacity="0.9" stroke="#3b8028" stroke-width="0.6"/>
<circle cx="199.00" cy="350.70" r="1.35" fill="#5fae48" fill-opacity="0.9" stroke="#3b8028" stroke-width="0.6"/>
<circle cx="226.00" cy="343.50" r="1.35" fill="#5fae48" fill-opacity="0.9" stroke="#3b8028" stroke-width="0.6"/>
<circle cx="226.00" cy="347.10" r="1.35" fill="#5fae48" fill-opacity="0.9" stroke="#3b8028" stroke-width="0.6"/>
<circle cx="226.00" cy="350.70" r="1.35" fill="#5fae48" fill-opacity="0.9" stroke="#3b8028" stroke-width="0.6"/>
<circle cx="172.00" cy="370.50" r="1.75" fill="#5fae48" fill-opacity="0.9" stroke="#3b8028" stroke-width="0.6"/>
<circle cx="172.00" cy="374.10" r="1.75" fill="#5fae48" fill-opacity="0.9" stroke="#3b8028" stroke-width="0.6"/>
<circle cx="172.00" cy="377.70" r="1.75" fill="#5fae48" fill-opacity="0.9" stroke="#3b8028" stroke-width="0.6"/>
<circle cx="199.00" cy="370.50" r="1.35" fill="#5fae48" fill-opacity="0.9" stroke="#3b8028" stroke-width="0.6"/>
<circle cx="199.00" cy="374.10" r="1.35" fill="#5fae48" fill-opacity="0.9" stroke="#3b8028" stroke-width="0.6"/>
<circle cx="199.00" cy="377.70" r="1.35" fill="#5fae48" fill-opacity="0.9" stroke="#3b8028" stroke-width="0.6"/>
<circle cx="226.00" cy="370.50" r="1.25" fill="#5fae48" fill-opacity="0.9" stroke="#3b8028" stroke-width="0.6"/>
<circle cx="226.00" cy="374.10" r="1.25" fill="#5fae48" fill-opacity="0.9" stroke="#3b8028" stroke-width="0.6"/>
<circle cx="226.00" cy="377.70" r="1.25" fill="#5fae48" fill-opacity="0.9" stroke="#3b8028" stroke-width="0.6"/>
<path d="M123.89999999999999,292.1 H126.1 V318.9 H123.89999999999999" fill="none" stroke="#444" stroke-width="0.75"/>
<text x="0" y="0" font-size="5.9" fill="#222" text-anchor="middle" font-weight="normal" transform="translate(131.5,305.5) rotate(90)" dominant-baseline="central" stroke="#222" stroke-width="0.22">ns</text>
<path d="M134.8,264.4 H137.0 V318.9 H134.8" fill="none" stroke="#444" stroke-width="0.75"/>
<text x="0" y="0" font-size="5.9" fill="#222" text-anchor="middle" font-weight="normal" transform="translate(143.1,291.65) rotate(90)" dominant-baseline="central" stroke="#222" stroke-width="0.22">ns</text>
<path d="M129.5,320.2 H131.7 V347.0 H129.5" fill="none" stroke="#444" stroke-width="0.75"/>
<text x="0" y="0" font-size="5.9" fill="#222" text-anchor="middle" font-weight="normal" transform="translate(137.4,333.6) rotate(90)" dominant-baseline="central" stroke="#222" stroke-width="0.22">ns</text>
<path d="M139.9,320.0 H142.1 V374.8 H139.9" fill="none" stroke="#444" stroke-width="0.75"/>
<text x="0" y="0" font-size="5.9" fill="#222" text-anchor="middle" font-weight="normal" transform="translate(148.29999999999998,347.4) rotate(90)" dominant-baseline="central" stroke="#222" stroke-width="0.22">ns</text>
<path d="M240.9,292.1 H243.1 V318.9 H240.9" fill="none" stroke="#444" stroke-width="0.75"/>
<text x="0" y="0" font-size="5.9" fill="#222" text-anchor="middle" font-weight="normal" transform="translate(248.5,305.5) rotate(90)" dominant-baseline="central" stroke="#222" stroke-width="0.22">ns</text>
<path d="M251.8,264.4 H254.0 V318.9 H251.8" fill="none" stroke="#444" stroke-width="0.75"/>
<text x="0" y="0" font-size="5.9" fill="#222" text-anchor="middle" font-weight="normal" transform="translate(260.1,291.65) rotate(90)" dominant-baseline="central" stroke="#222" stroke-width="0.22">ns</text>
<path d="M246.5,320.2 H248.7 V347.0 H246.5" fill="none" stroke="#444" stroke-width="0.75"/>
<text x="0" y="0" font-size="5.9" fill="#222" text-anchor="middle" font-weight="normal" transform="translate(254.4,333.6) rotate(90)" dominant-baseline="central" stroke="#222" stroke-width="0.22">ns</text>
<path d="M256.90000000000003,320.0 H259.1 V374.8 H256.90000000000003" fill="none" stroke="#444" stroke-width="0.75"/>
<text x="0" y="0" font-size="5.9" fill="#222" text-anchor="middle" font-weight="normal" transform="translate(262.1,347.4) rotate(90)" dominant-baseline="central" stroke="#222" stroke-width="0.22">*</text>
<text x="0" y="0" font-size="8.0" fill="#1a1a1a" text-anchor="middle" font-weight="normal" transform="translate(14.0,319.0) rotate(-90)" stroke="#1a1a1a" stroke-width="0.42" textLength="25.5" lengthAdjust="spacingAndGlyphs">Population</text>
<text x="141.1" y="413.8" font-size="8.2" fill="#1a1a1a" text-anchor="middle" font-weight="normal" stroke="#1a1a1a" stroke-width="0.42" textLength="14.1" lengthAdjust="spacingAndGlyphs">Donor</text>
<text x="274.6" y="289.2" font-size="6.15" fill="#1a1a1a" text-anchor="start" font-weight="normal" stroke="#1a1a1a" stroke-width="0.22">CD56_cell</text>
<circle cx="279.1" cy="296.5" r="2.8" fill="#111"/>
<text x="286.5" y="298.7" font-size="6.1" fill="#1a1a1a" text-anchor="start" font-weight="normal" stroke="#1a1a1a" stroke-width="0.22">5000</text>
<circle cx="279.1" cy="304.8" r="3.3" fill="#111"/>
<text x="286.5" y="307.0" font-size="6.1" fill="#1a1a1a" text-anchor="start" font-weight="normal" stroke="#1a1a1a" stroke-width="0.22">10000</text>
<circle cx="279.1" cy="314.0" r="3.9" fill="#111"/>
<text x="286.5" y="316.2" font-size="6.1" fill="#1a1a1a" text-anchor="start" font-weight="normal" stroke="#1a1a1a" stroke-width="0.22">15000</text>
<text x="274.6" y="334.1" font-size="5.9" fill="#1a1a1a" text-anchor="start" font-weight="normal" stroke="#1a1a1a" stroke-width="0.22">ILC_output</text>
<circle cx="278.8" cy="341.9" r="1.75" fill="#aa2490" fill-opacity="0.85" stroke="#72105e" stroke-width="0.4"/>
<text x="284.0" y="344.09999999999997" font-size="6.1" fill="#1a1a1a" text-anchor="start" font-weight="normal" stroke="#1a1a1a" stroke-width="0.22">NK_ILC3</text>
<circle cx="278.8" cy="350.6" r="1.75" fill="#5fae48" fill-opacity="0.85" stroke="#3b8028" stroke-width="0.4"/>
<text x="284.0" y="352.8" font-size="6.1" fill="#1a1a1a" text-anchor="start" font-weight="normal" stroke="#1a1a1a" stroke-width="0.22">NK_only</text>
<rect x="367.00" y="134.90" width="14.70" height="5.10" fill="#f7931a"/>
<rect x="367.00" y="114.50" width="14.70" height="20.40" fill="#d30c30"/>
<rect x="367.00" y="48.20" width="14.70" height="66.30" fill="#0e4d92"/>
<rect x="383.50" y="124.70" width="14.70" height="15.30" fill="#d30c30"/>
<rect x="383.50" y="48.20" width="14.70" height="76.50" fill="#0e4d92"/>
<rect x="400.00" y="53.30" width="14.70" height="86.70" fill="#f7931a"/>
<rect x="400.00" y="48.20" width="14.70" height="5.10" fill="#d30c30"/>
<rect x="416.50" y="48.20" width="14.70" height="91.80" fill="#f7931a"/>
<rect x="433.00" y="48.20" width="14.70" height="91.80" fill="#f7931a"/>
<line x1="364.5" y1="44.0" x2="364.5" y2="145.1" stroke="#1a1a1a" stroke-width="1.05"/>
<line x1="364.0" y1="144.6" x2="450.3" y2="144.6" stroke="#1a1a1a" stroke-width="1.05"/>
<line x1="362.0" y1="140.0" x2="364.5" y2="140.0" stroke="#1a1a1a" stroke-width="0.8"/>
<text x="359.0" y="142.0" font-size="6.3" fill="#333" text-anchor="end" font-weight="normal" stroke="#333" stroke-width="0.22">0</text>
<line x1="362.0" y1="109.4" x2="364.5" y2="109.4" stroke="#1a1a1a" stroke-width="0.8"/>
<text x="359.0" y="111.4" font-size="6.3" fill="#333" text-anchor="end" font-weight="normal" stroke="#333" stroke-width="0.22">6</text>
<line x1="362.0" y1="78.80000000000001" x2="364.5" y2="78.80000000000001" stroke="#1a1a1a" stroke-width="0.8"/>
<text x="359.0" y="80.80000000000001" font-size="6.3" fill="#333" text-anchor="end" font-weight="normal" stroke="#333" stroke-width="0.22">12</text>
<line x1="362.0" y1="48.2" x2="364.5" y2="48.2" stroke="#1a1a1a" stroke-width="0.8"/>
<text x="359.0" y="50.2" font-size="6.3" fill="#333" text-anchor="end" font-weight="normal" stroke="#333" stroke-width="0.22">18</text>
<line x1="374.35" y1="144.6" x2="374.35" y2="147.6" stroke="#1a1a1a" stroke-width="0.8"/>
<text x="0" y="0" font-size="6.3" fill="#2e2e2e" stroke="#2e2e2e" stroke-width="0.22" text-anchor="end" transform="translate(377.95000000000005,153.6) rotate(-45)">CD34</text>
<line x1="390.85" y1="144.6" x2="390.85" y2="147.6" stroke="#1a1a1a" stroke-width="0.8"/>
<text x="0" y="0" font-size="6.3" fill="#2e2e2e" stroke="#2e2e2e" stroke-width="0.22" text-anchor="end" transform="translate(394.45000000000005,153.6) rotate(-45)">S1−2</text>
<line x1="407.35" y1="144.6" x2="407.35" y2="147.6" stroke="#1a1a1a" stroke-width="0.8"/>
<text x="0" y="0" font-size="6.3" fill="#2e2e2e" stroke="#2e2e2e" stroke-width="0.22" text-anchor="end" transform="translate(410.95000000000005,153.6) rotate(-45)">S3a</text>
<line x1="423.85" y1="144.6" x2="423.85" y2="147.6" stroke="#1a1a1a" stroke-width="0.8"/>
<text x="0" y="0" font-size="6.3" fill="#2e2e2e" stroke="#2e2e2e" stroke-width="0.22" text-anchor="end" transform="translate(427.45000000000005,153.6) rotate(-45)">S3b</text>
<line x1="440.35" y1="144.6" x2="440.35" y2="147.6" stroke="#1a1a1a" stroke-width="0.8"/>
<text x="0" y="0" font-size="6.3" fill="#2e2e2e" stroke="#2e2e2e" stroke-width="0.22" text-anchor="end" transform="translate(443.95000000000005,153.6) rotate(-45)">S4</text>
<text x="407.75" y="174.4" font-size="8.4" fill="#1a1a1a" text-anchor="middle" font-weight="normal" stroke="#1a1a1a" stroke-width="0.42" textLength="27.7" lengthAdjust="spacingAndGlyphs">Population</text>
<text x="0" y="0" font-size="7.8" fill="#1a1a1a" text-anchor="middle" font-weight="normal" transform="translate(346.4,94.65) rotate(-90)" stroke="#1a1a1a" stroke-width="0.42" textLength="14.0" lengthAdjust="spacingAndGlyphs">Count</text>
<path d="M374.35,34.2 V32.0 H407.35 V34.2" fill="none" stroke="#444" stroke-width="0.75"/>
<text x="391.1" y="31.4" font-size="5.8" fill="#222" text-anchor="middle" font-weight="normal" stroke="#222" stroke-width="0.22">***</text>
<path d="M390.85,42.7 V40.5 H407.35 V42.7" fill="none" stroke="#444" stroke-width="0.75"/>
<text x="399.3" y="39.3" font-size="5.8" fill="#222" text-anchor="middle" font-weight="normal" stroke="#222" stroke-width="0.22">***</text>
<path d="M407.35,37.6 V35.4 H423.85 V37.6" fill="none" stroke="#444" stroke-width="0.75"/>
<text x="415.7" y="34.0" font-size="5.8" fill="#222" text-anchor="middle" font-weight="normal" stroke="#222" stroke-width="0.22">ns</text>
<path d="M407.35,30.4 V28.2 H440.35 V30.4" fill="none" stroke="#444" stroke-width="0.75"/>
<text x="423.8" y="26.8" font-size="5.8" fill="#222" text-anchor="middle" font-weight="normal" stroke="#222" stroke-width="0.22">ns</text>
<text x="454.9" y="83.5" font-size="5.9" fill="#1a1a1a" text-anchor="start" font-weight="normal" stroke="#1a1a1a" stroke-width="0.22">Lineage_output</text>
<rect x="455.40" y="88.10" width="6.10" height="6.20" fill="#0e4d92"/>
<text x="464.7" y="93.3" font-size="6.05" fill="#1a1a1a" text-anchor="start" font-weight="normal" stroke="#1a1a1a" stroke-width="0.22">B−Myeloid−CD56</text>
<rect x="455.40" y="96.40" width="6.10" height="6.20" fill="#d30c30"/>
<text x="464.7" y="101.6" font-size="6.05" fill="#1a1a1a" text-anchor="start" font-weight="normal" stroke="#1a1a1a" stroke-width="0.22">Myeloid−CD56</text>
<rect x="455.40" y="104.70" width="6.10" height="6.20" fill="#f7931a"/>
<text x="464.7" y="109.89999999999999" font-size="6.05" fill="#1a1a1a" text-anchor="start" font-weight="normal" stroke="#1a1a1a" stroke-width="0.22">CD56_only</text>
<rect x="367.05" y="294.66" width="13.90" height="53.84" fill="#3cae35"/>
<rect x="367.05" y="260.40" width="13.90" height="34.26" fill="#ab0a80"/>
<rect x="383.10" y="324.03" width="13.90" height="24.47" fill="#3cae35"/>
<rect x="383.10" y="260.40" width="13.90" height="63.63" fill="#ab0a80"/>
<rect x="399.15" y="314.24" width="13.90" height="34.26" fill="#3cae35"/>
<rect x="399.15" y="260.40" width="13.90" height="53.84" fill="#ab0a80"/>
<rect x="415.20" y="289.77" width="13.90" height="58.73" fill="#3cae35"/>
<rect x="415.20" y="260.40" width="13.90" height="29.37" fill="#ab0a80"/>
<rect x="431.25" y="270.19" width="13.90" height="78.31" fill="#3cae35"/>
<rect x="431.25" y="260.40" width="13.90" height="9.79" fill="#ab0a80"/>
<line x1="364.6" y1="257.0" x2="364.6" y2="353.1" stroke="#1a1a1a" stroke-width="1.05"/>
<line x1="364.1" y1="352.6" x2="447.3" y2="352.6" stroke="#1a1a1a" stroke-width="1.05"/>
<line x1="362.1" y1="348.5" x2="364.6" y2="348.5" stroke="#1a1a1a" stroke-width="0.8"/>
<text x="359.1" y="350.5" font-size="6.3" fill="#333" text-anchor="end" font-weight="normal" stroke="#333" stroke-width="0.22">0</text>
<line x1="362.1" y1="319.1333333333333" x2="364.6" y2="319.1333333333333" stroke="#1a1a1a" stroke-width="0.8"/>
<text x="359.1" y="321.1333333333333" font-size="6.3" fill="#333" text-anchor="end" font-weight="normal" stroke="#333" stroke-width="0.22">6</text>
<line x1="362.1" y1="289.76666666666665" x2="364.6" y2="289.76666666666665" stroke="#1a1a1a" stroke-width="0.8"/>
<text x="359.1" y="291.76666666666665" font-size="6.3" fill="#333" text-anchor="end" font-weight="normal" stroke="#333" stroke-width="0.22">12</text>
<line x1="362.1" y1="260.4" x2="364.6" y2="260.4" stroke="#1a1a1a" stroke-width="0.8"/>
<text x="359.1" y="262.4" font-size="6.3" fill="#333" text-anchor="end" font-weight="normal" stroke="#333" stroke-width="0.22">18</text>
<line x1="374.0" y1="352.6" x2="374.0" y2="355.6" stroke="#1a1a1a" stroke-width="0.8"/>
<text x="0" y="0" font-size="6.3" fill="#2e2e2e" stroke="#2e2e2e" stroke-width="0.22" text-anchor="end" transform="translate(377.6,361.6) rotate(-45)">CD34</text>
<line x1="390.05" y1="352.6" x2="390.05" y2="355.6" stroke="#1a1a1a" stroke-width="0.8"/>
<text x="0" y="0" font-size="6.3" fill="#2e2e2e" stroke="#2e2e2e" stroke-width="0.22" text-anchor="end" transform="translate(393.65000000000003,361.6) rotate(-45)">S1−2</text>
<line x1="406.1" y1="352.6" x2="406.1" y2="355.6" stroke="#1a1a1a" stroke-width="0.8"/>
<text x="0" y="0" font-size="6.3" fill="#2e2e2e" stroke="#2e2e2e" stroke-width="0.22" text-anchor="end" transform="translate(409.70000000000005,361.6) rotate(-45)">S3a</text>
<line x1="422.15" y1="352.6" x2="422.15" y2="355.6" stroke="#1a1a1a" stroke-width="0.8"/>
<text x="0" y="0" font-size="6.3" fill="#2e2e2e" stroke="#2e2e2e" stroke-width="0.22" text-anchor="end" transform="translate(425.75,361.6) rotate(-45)">S3b</text>
<line x1="438.2" y1="352.6" x2="438.2" y2="355.6" stroke="#1a1a1a" stroke-width="0.8"/>
<text x="0" y="0" font-size="6.3" fill="#2e2e2e" stroke="#2e2e2e" stroke-width="0.22" text-anchor="end" transform="translate(441.8,361.6) rotate(-45)">S4</text>
<text x="406.2" y="383.0" font-size="8.4" fill="#1a1a1a" text-anchor="middle" font-weight="normal" stroke="#1a1a1a" stroke-width="0.42" textLength="27.7" lengthAdjust="spacingAndGlyphs">Population</text>
<text x="0" y="0" font-size="7.8" fill="#1a1a1a" text-anchor="middle" font-weight="normal" transform="translate(346.5,304.2) rotate(-90)" stroke="#1a1a1a" stroke-width="0.42" textLength="14.0" lengthAdjust="spacingAndGlyphs">Count</text>
<path d="M373.8,247.29999999999998 V245.1 H405.5 V247.29999999999998" fill="none" stroke="#444" stroke-width="0.75"/>
<text x="389.7" y="242.9" font-size="5.8" fill="#222" text-anchor="middle" font-weight="normal" stroke="#222" stroke-width="0.22">ns</text>
<path d="M390.1,255.39999999999998 V253.2 H405.5 V255.39999999999998" fill="none" stroke="#444" stroke-width="0.75"/>
<text x="397.9" y="251.4" font-size="5.8" fill="#222" text-anchor="middle" font-weight="normal" stroke="#222" stroke-width="0.22">ns</text>
<path d="M405.5,250.6 V248.4 H421.4 V250.6" fill="none" stroke="#444" stroke-width="0.75"/>
<text x="413.5" y="246.6" font-size="5.8" fill="#222" text-anchor="middle" font-weight="normal" stroke="#222" stroke-width="0.22">ns</text>
<path d="M405.5,243.79999999999998 V241.6 H437.3 V243.79999999999998" fill="none" stroke="#444" stroke-width="0.75"/>
<text x="421.7" y="241.1" font-size="5.8" fill="#222" text-anchor="middle" font-weight="normal" stroke="#222" stroke-width="0.22">*</text>
<text x="454.5" y="297.9" font-size="5.9" fill="#1a1a1a" text-anchor="start" font-weight="normal" stroke="#1a1a1a" stroke-width="0.22">ILC_output</text>
<rect x="455.00" y="302.50" width="6.10" height="6.20" fill="#ab0a80"/>
<text x="464.3" y="307.7" font-size="6.05" fill="#1a1a1a" text-anchor="start" font-weight="normal" stroke="#1a1a1a" stroke-width="0.22">NK_ILC3</text>
<rect x="455.00" y="310.80" width="6.10" height="6.20" fill="#3cae35"/>
<text x="464.3" y="316.0" font-size="6.05" fill="#1a1a1a" text-anchor="start" font-weight="normal" stroke="#1a1a1a" stroke-width="0.22">NK_only</text>
<rect x="0.5" y="0.5" width="519" height="421" fill="none" stroke="#3c3c3c" stroke-width="1.1"/>
</svg></body></html>
